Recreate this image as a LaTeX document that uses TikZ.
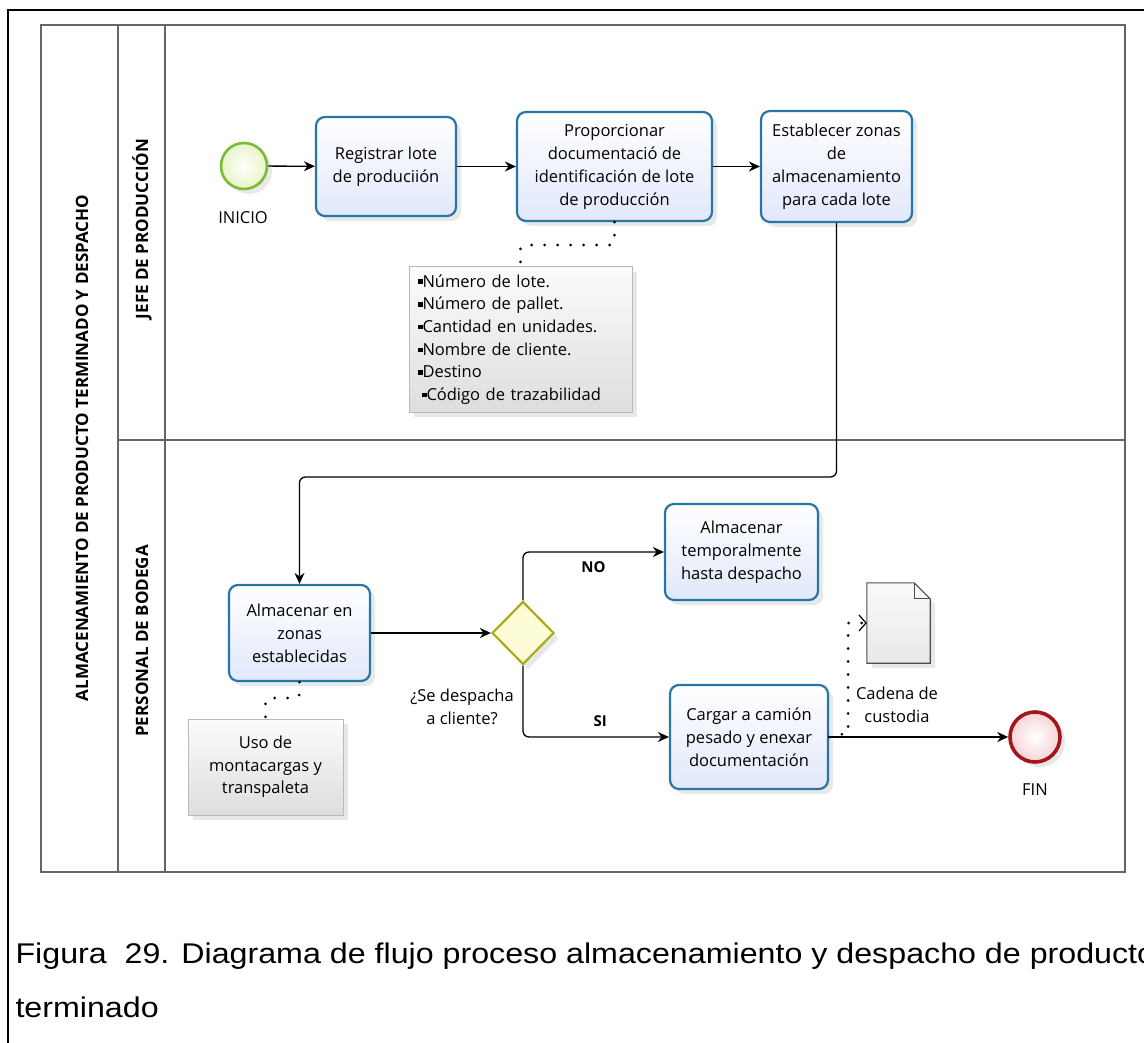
\documentclass[tikz,border=0pt]{standalone}
\usepackage{fontspec}
\setmainfont{Open Sans}
\newfontfamily\capfont[FakeStretch=1.13]{Liberation Sans}
\usetikzlibrary{shapes.geometric, arrows.meta, shadows}

\definecolor{tareaborde}{RGB}{38,118,168}
\definecolor{tareafondo}{RGB}{226,232,250}
\definecolor{inicioverde}{RGB}{122,188,52}
\definecolor{iniciofondo}{RGB}{232,244,200}
\definecolor{finrojo}{RGB}{165,22,28}
\definecolor{finfondo}{RGB}{246,212,216}
\definecolor{olivo}{RGB}{170,170,30}
\definecolor{amarillo}{RGB}{252,252,214}

\newcommand{\vinieta}{\rule[0.35ex]{4.5pt}{4.5pt}}

\tikzset{
  sombra/.style={drop shadow={shadow xshift=5pt, shadow yshift=-5pt, opacity=0.18}},
  tarea/.style={draw=tareaborde, line width=2.2pt, rounded corners=9pt, top color=white,
    bottom color=tareafondo, align=center, inner sep=2pt, sombra,
    font=\fontsize{16.5}{23}\selectfont},
  nota/.style={draw=gray!55, line width=1pt, top color=gray!3, bottom color=gray!26,
    inner sep=4pt, sombra, font=\fontsize{16.5}{22.7}\selectfont},
  etiq/.style={align=center, font=\fontsize{16.5}{23}\selectfont},
  carril/.style={draw=black!60, line width=1.3pt},
  rotulo/.style={rotate=90, font=\bfseries\fontsize{17}{18}\selectfont},
  flujo/.style={line width=1.3pt, -{Stealth[length=11pt, width=10pt]}},
  asoc/.style={line width=3pt, line cap=round, dash pattern=on 0pt off 13pt},
  rama/.style={font=\bfseries\fontsize{15}{17}\selectfont},
}

\begin{document}
\begin{tikzpicture}[x=1pt, y=-1pt]
  \useasboundingbox (0,0) rectangle (1144,1043);

  % marco y carriles
  \draw[line width=2pt] (8,1060) -- (8,10) -- (1160,10);
  \draw[carril] (41,25) rectangle (1125,872);
  \draw[carril] (118,25) -- (118,872);
  \draw[carril] (165,25) -- (165,872);
  \draw[carril] (118,440) -- (1125,440);

  \node[rotulo] (pool) at (82,448) {ALMACENAMIENTO DE PRODUCTO TERMINADO Y DESPACHO};
  \node[rotulo] (jefe) at (142,229) {JEFE DE PRODUCCIÓN};
  \node[rotulo] (bodega) at (142,641) {PERSONAL DE BODEGA};

  % carril jefe de produccion
  \node[circle, draw=inicioverde, line width=2.6pt, inner color=white, outer color=iniciofondo,
    minimum size=46pt, sombra] (ini) at (244,166) {};
  \node[etiq] (tini) at (243,218) {INICIO};
  \node[tarea, minimum width=140pt, minimum height=99pt] (reg) at (386,166.5)
    {Registrar lote\\de produciión};
  \node[tarea, minimum width=195pt, minimum height=109pt] (prop) at (614.5,166.5)
    {Proporcionar\\documentació de\\identificación de lote\\de producción};
  \node[tarea, minimum width=151pt, minimum height=111pt] (est) at (836.5,166.5)
    {Establecer zonas\\de\\almacenamiento\\para cada lote};
  \node[nota, minimum width=223pt, minimum height=145pt, text width=205pt, align=left] (nl)
    at (520.5,339.5)
    {\vinieta Número de lote.\\
     \vinieta Número de pallet.\\
     \vinieta Cantidad en unidades.\\
     \vinieta Nombre de cliente.\\
     \vinieta Destino\\
     \hspace*{4pt}\vinieta Código de trazabilidad};

  % carril bodega
  \node[tarea, minimum width=141pt, minimum height=96pt] (alm) at (299.5,633)
    {Almacenar en\\zonas\\establecidas};
  \node[nota, minimum width=155pt, minimum height=96pt, align=center] (nu) at (265.5,767)
    {Uso de\\montacargas y\\transpaleta};
  \node[diamond, draw=olivo, line width=2.2pt, fill=amarillo, minimum width=62pt,
    minimum height=63pt, inner sep=0pt, sombra] (gw) at (523,633) {};
  \node[etiq] (tgw) at (462,707) {¿Se despacha\\a cliente?};
  \node[tarea, minimum width=153pt, minimum height=96pt] (temp) at (741.5,552)
    {Almacenar\\temporalmente\\hasta despacho};
  \node[tarea, minimum width=158pt, minimum height=104pt] (carg) at (749,737)
    {Cargar a camión\\pesado y enexar\\documentación};
  \node[minimum width=63pt, minimum height=80pt, inner sep=0pt] (doc) at (898.5,623) {};
  \draw[draw=gray!60!black, line width=1.1pt, top color=gray!4, bottom color=gray!18, sombra]
    (doc.south west) -- (doc.north west) -- ([xshift=-16pt]doc.north east)
    -- ([yshift=-16pt]doc.north east) -- (doc.south east) -- cycle;
  \draw[draw=gray!60!black, line width=1.1pt]
    ([xshift=-16pt]doc.north east) -- ([xshift=-16pt, yshift=-16pt]doc.north east)
    -- ([yshift=-16pt]doc.north east);
  \node[etiq] (tdoc) at (897,705) {Cadena de\\custodia};
  \node[circle, draw=finrojo, line width=3.6pt, inner color=white, outer color=finfondo,
    minimum size=50pt, sombra] (fin) at (1035,737) {};
  \node[etiq] (tfin) at (1035,790) {FIN};

  % flujos
  \draw[flujo] (ini) -- (reg);
  \draw[flujo] (reg) -- (prop);
  \draw[flujo] (prop) -- (est);
  \draw[flujo, rounded corners=6pt] (est.south) |- (alm.north |- 0,477) -- (alm.north);
  \draw[flujo] (alm) -- (gw);
  \draw[flujo, rounded corners=6pt] (gw.north) |- (temp.west)
    node[rama, pos=0.75, below=6pt] (tno) {NO};
  \draw[flujo, rounded corners=6pt] (gw.south) |- (carg.west)
    node[rama, pos=0.765, above=6pt] (tsi) {SI};
  \draw[flujo] (carg) -- (fin);

  % asociaciones
  \draw[asoc, rounded corners=4pt] (prop.south) -- ++(0,23) -| (nl.north);
  \draw[asoc, rounded corners=4pt] (alm.south) -- ++(0,16) -| (nu.north);
  \draw[asoc, -{Straight Barb[length=7pt, width=16pt, line width=1.2pt]}]
    (carg.east) -- ++(19,-4) |- (doc.west);

  \node[anchor=base west, align=left, font=\capfont\fontsize{28.5}{54}\selectfont] (pie)
    at (12,1017) {Figura\ \ 29. Diagrama de flujo proceso almacenamiento y despacho de producto\\terminado};
\end{tikzpicture}
\end{document}
